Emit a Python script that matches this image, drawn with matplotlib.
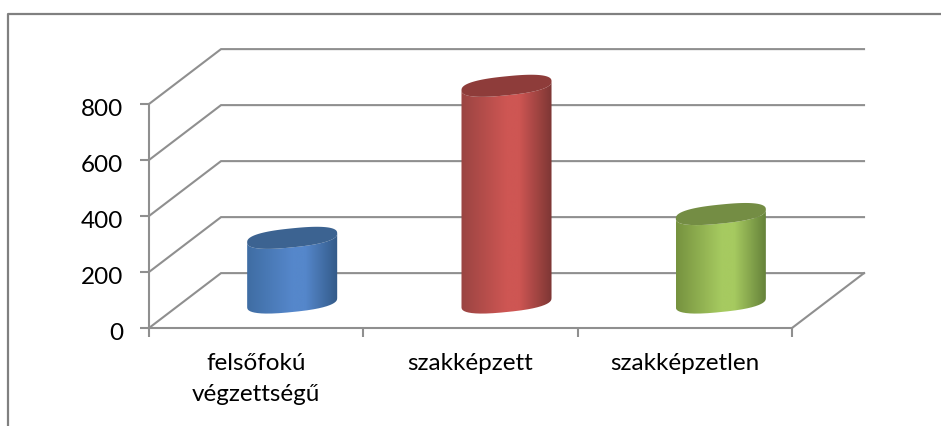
import numpy as np
import matplotlib
matplotlib.use("Agg")
import matplotlib.pyplot as plt
from matplotlib.patches import PathPatch
from matplotlib.path import Path
from matplotlib.lines import Line2D
from matplotlib.colors import LinearSegmentedColormap
from matplotlib.transforms import ScaledTranslation

categories = ["felsőfokú\nvégzettségű", "szakképzett", "szakképzetlen"]
values = [231, 774, 316]
y_ticks = [0, 200, 400, 600, 800]
colors_mid = ["#5587CB", "#CE5653", "#A6CA60"]
colors_left = ["#3F6DA3", "#9A4442", "#76923F"]
colors_right = ["#335A88", "#7D3634", "#648039"]
colors_top = ["#3C6391", "#8E3C3A", "#748D44"]

GRAY = "#8F8F8F"
LW = 1.5
DX, DY = 0.336, 196.0      # depth offset of the back wall, in data units
BAR_W = 0.42
A, B, S = BAR_W / 2, 34.0, 16.0  # ellipse half-width, half-height, tilt

plt.rcParams["font.family"] = ["Lato", "DejaVu Sans"]
W, H = 941, 426
fig = plt.figure(figsize=(W / 100, H / 100), dpi=100)
ax = fig.add_axes([149 / W, (H - 328) / H, 643 / W, 224 / H])
ax.set_xlim(0, 3)
ax.set_ylim(0, 800)
ax.patch.set_visible(False)

# walls and floor
for v in y_ticks:
    ax.plot([0, DX, 3 + DX], [v, v + DY, v + DY], color=GRAY, lw=LW, clip_on=False, zorder=1,
            solid_joinstyle="miter")
ax.plot([3, 3 + DX], [0, DY], color=GRAY, lw=LW, clip_on=False, zorder=1)

# cylinders (slightly squared ellipses, as the rounded ends of the 3-D shape)
t = np.linspace(0, np.pi, 120)
ct = np.sign(np.cos(t)) * np.abs(np.cos(t)) ** 0.8
st = np.abs(np.sin(t)) ** 0.8
for i, val in enumerate(values):
    cx = i + 0.5 + DX / 2
    y0 = DY / 2 - 7
    xs = cx + A * ct
    base_low = y0 + S * ct - B * st
    top_up = y0 + val + S * ct + B * st
    top_low = y0 + val + S * ct - B * st

    body = np.r_[np.c_[xs, base_low], np.c_[xs[::-1], top_low[::-1]]]
    patch = PathPatch(Path(body), fc="none", ec="none", transform=ax.transData, clip_on=False)
    ax.add_patch(patch)
    cmap = LinearSegmentedColormap.from_list(
        "c", [(0, colors_left[i]), (0.5, colors_mid[i]), (0.64, colors_mid[i]), (1, colors_right[i])])
    im = ax.imshow(np.linspace(0, 1, 256)[None, :], cmap=cmap, aspect="auto",
                   extent=[cx - A, cx + A, y0 - 60, y0 + val + 60], zorder=3)
    im.set_clip_box(fig.bbox)
    im.set_clip_path(patch)

    top = np.r_[np.c_[xs, top_up], np.c_[xs[::-1], top_low[::-1]]]
    ax.add_patch(PathPatch(Path(top), fc=colors_top[i], ec="none", zorder=4, clip_on=False))

ax.set_xlim(0, 3)
ax.set_ylim(0, 800)

# axes
for s in ["top", "right"]:
    ax.spines[s].set_visible(False)
for s in ["left", "bottom"]:
    ax.spines[s].set_color(GRAY)
    ax.spines[s].set_linewidth(LW)
ax.set_yticks(y_ticks)
ax.set_xticks([0, 1, 2, 3])
ax.set_xticklabels([])
ax.set_xticks([0.5, 1.5, 2.5], minor=True)
ax.set_xticklabels(categories, minor=True, fontsize=17.5, color="black", linespacing=1.6, va="top")
ax.tick_params(axis="y", length=6.5, width=LW, color=GRAY, labelsize=17.5, pad=12, labelcolor="black")
ax.tick_params(axis="x", which="major", length=6.5, width=LW, color=GRAY)
ax.tick_params(axis="x", which="minor", length=0, pad=18)
shift = ScaledTranslation(0, -3 / 72 * 72 / 100, fig.dpi_scale_trans)
for lab in ax.get_yticklabels():
    lab.set_transform(lab.get_transform() + shift)

# chart frame
fx = lambda p: p / W
fy = lambda p: (H - p) / H
fig.add_artist(Line2D([fx(8), fx(8), fx(941)], [fy(426), fy(14), fy(14)], color="#808080", lw=1.6))

fig.savefig("out.png", dpi=100)
